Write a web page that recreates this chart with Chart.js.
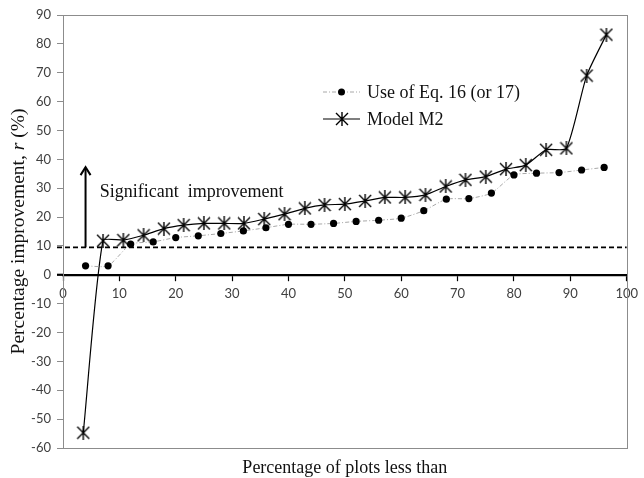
<!DOCTYPE html>
<html><head><meta charset="utf-8">
<script src="https://cdn.jsdelivr.net/npm/chart.js@4"></script>
<style>html,body{margin:0;padding:0;background:#fff}#wrap{width:644px;height:478px}</style>
</head><body><div id="wrap"><canvas id="c" width="644" height="478"></canvas></div>
<script>
// ---- data ----
const m2X = [3.6, 7.1, 10.7, 14.3, 17.9, 21.4, 25.0, 28.6, 32.1, 35.7, 39.3, 42.9, 46.4, 50.0, 53.6, 57.1, 60.7, 64.3, 67.9, 71.4, 75.0, 78.6, 82.1, 85.7, 89.3, 92.9, 96.4];
const m2Y = [-54.7, 11.8, 12.0, 13.7, 16.0, 17.2, 17.8, 17.8, 17.8, 19.3, 21.0, 23.0, 24.2, 24.5, 25.6, 26.8, 26.8, 27.7, 30.6, 32.9, 34.0, 36.6, 38.0, 43.3, 43.8, 69.0, 83.2];
const eqX = [4, 8, 12, 16, 20, 24, 28, 32, 36, 40, 44, 48, 52, 56, 60, 64, 68, 72, 76, 80, 84, 88, 92, 96];
const eqY = [3.1, 3.1, 10.6, 11.4, 12.9, 13.5, 14.3, 15.2, 16.3, 17.5, 17.5, 17.8, 18.5, 18.9, 19.6, 22.2, 26.2, 26.4, 28.3, 34.6, 35.2, 35.4, 36.3, 37.2];
const xTicks = [0, 10, 20, 30, 40, 50, 60, 70, 80, 90, 100];
const yTicks = [-60, -50, -40, -30, -20, -10, 0, 10, 20, 30, 40, 50, 60, 70, 80, 90];
const seriesNames = ['Use of Eq. 16 (or 17)', 'Model M2'];
const thresholdValue = 9.5;
const arrowX = 4.0, arrowTopValue = 37.3;
const noteText = 'Significant  improvement';
const noteX = 6.5, noteY = 26.8;
const xTitle = 'Percentage of plots less than';
const yTitleParts = ['Percentage improvement, ', 'r', ' (%)'];

// ---- styles ----
const SERIF = '"Liberation Serif", "Times New Roman", serif';
const SANS = 'Lato, "Liberation Sans", sans-serif';
const FRAME = '#8c8c8c';

function makeStar() {
  const c = document.createElement('canvas');
  c.width = 14; c.height = 14;
  const g = c.getContext('2d');
  g.strokeStyle = '#000'; g.lineWidth = 1.4;
  g.beginPath();
  g.moveTo(1, 1); g.lineTo(13, 13);
  g.moveTo(13, 1); g.lineTo(1, 13);
  g.moveTo(7, 0); g.lineTo(7, 14);
  g.stroke();
  return c;
}
const starImg = makeStar();

const decor = {
  id: 'decor',
  beforeDatasetsDraw(chart) {
    const {ctx, chartArea: a, scales: {x, y}} = chart;
    ctx.save();
    ctx.strokeStyle = FRAME; ctx.lineWidth = 1;
    ctx.strokeRect(Math.round(a.left) + 0.5, Math.round(a.top) + 0.5, Math.round(a.right - a.left), Math.round(a.bottom - a.top));
    const ty = y.getPixelForValue(thresholdValue);
    ctx.strokeStyle = '#000'; ctx.lineWidth = 1.6; ctx.setLineDash([5, 3]);
    ctx.beginPath(); ctx.moveTo(a.left - 6, ty); ctx.lineTo(a.right, ty); ctx.stroke();
    ctx.setLineDash([]);
    const zy = y.getPixelForValue(0);
    ctx.lineWidth = 2.2;
    ctx.beginPath(); ctx.moveTo(a.left - 6, zy); ctx.lineTo(a.left, zy); ctx.stroke();
    const ax = x.getPixelForValue(arrowX);
    const at = y.getPixelForValue(arrowTopValue);
    ctx.lineWidth = 2;
    ctx.beginPath(); ctx.moveTo(ax, ty); ctx.lineTo(ax, at + 1); ctx.stroke();
    ctx.beginPath(); ctx.moveTo(ax - 5, at + 8); ctx.lineTo(ax, at); ctx.lineTo(ax + 5, at + 8); ctx.stroke();
    ctx.fillStyle = '#111';
    ctx.font = '18px ' + SERIF;
    ctx.textBaseline = 'alphabetic'; ctx.textAlign = 'left';
    ctx.fillText(noteText, x.getPixelForValue(noteX), y.getPixelForValue(noteY));
    ctx.restore();
  },
  afterDraw(chart) {
    const {ctx, chartArea: a} = chart;
    ctx.save();
    ctx.fillStyle = '#111';
    ctx.font = '18px ' + SERIF;
    ctx.textAlign = 'center'; ctx.textBaseline = 'alphabetic';
    ctx.fillText(xTitle, (a.left + a.right) / 2, 473);
    const fN = '19.5px ' + SERIF, fI = 'italic 19.5px ' + SERIF;
    ctx.font = fN; const w0 = ctx.measureText(yTitleParts[0]).width; const w2 = ctx.measureText(yTitleParts[2]).width;
    ctx.font = fI; const w1 = ctx.measureText(yTitleParts[1]).width;
    const total = w0 + w1 + w2;
    ctx.translate(24, (a.top + a.bottom) / 2);
    ctx.rotate(-Math.PI / 2);
    ctx.textAlign = 'left';
    let px = -total / 2;
    ctx.font = fN; ctx.fillText(yTitleParts[0], px, 0); px += w0;
    ctx.font = fI; ctx.fillText(yTitleParts[1], px, 0); px += w1;
    ctx.font = fN; ctx.fillText(yTitleParts[2], px, 0);
    ctx.restore();
    ctx.save();
    const rows = [92, 119];
    const lx0 = 323, lx1 = 360, tx = 367;
    ctx.strokeStyle = '#a8a8a8'; ctx.lineWidth = 1; ctx.setLineDash([4, 2, 1, 2]);
    ctx.beginPath(); ctx.moveTo(lx0, rows[0]); ctx.lineTo(lx1, rows[0]); ctx.stroke();
    ctx.setLineDash([]);
    ctx.fillStyle = '#000';
    ctx.beginPath(); ctx.arc((lx0 + lx1) / 2, rows[0], 3.5, 0, Math.PI * 2); ctx.fill();
    ctx.strokeStyle = '#000'; ctx.lineWidth = 1.2;
    ctx.beginPath(); ctx.moveTo(lx0, rows[1]); ctx.lineTo(lx1, rows[1]); ctx.stroke();
    ctx.drawImage(starImg, Math.round((lx0 + lx1) / 2 - 7), rows[1] - 7);
    ctx.fillStyle = '#111';
    ctx.font = '18px ' + SERIF; ctx.textBaseline = 'middle'; ctx.textAlign = 'left';
    ctx.fillText(seriesNames[0], tx, rows[0] + 1);
    ctx.fillText(seriesNames[1], tx, rows[1] + 1);
    ctx.restore();
  }
};

new Chart(document.getElementById('c'), {
  type: 'scatter',
  data: {
    datasets: [
      {
        label: seriesNames[0],
        data: eqX.map((v, i) => ({x: v, y: eqY[i]})),
        showLine: true,
        borderColor: '#a8a8a8', borderWidth: 1, borderDash: [4, 2, 1, 2],
        tension: 0.2,
        pointStyle: 'circle', pointRadius: 3.6, pointBackgroundColor: '#000', pointBorderColor: '#000', pointBorderWidth: 0
      },
      {
        label: seriesNames[1],
        data: m2X.map((v, i) => ({x: v, y: m2Y[i]})),
        showLine: true,
        borderColor: '#000', borderWidth: 1.2,
        tension: 0.2,
        pointStyle: starImg, pointRadius: 7
      }
    ]
  },
  options: {
    responsive: false, animation: false, devicePixelRatio: 1,
    layout: {padding: {left: 0, right: 12, top: 15, bottom: 30}},
    plugins: {legend: {display: false}, tooltip: {enabled: false}, title: {display: false}},
    scales: {
      x: {
        type: 'linear', min: 0, max: 100, position: {y: 0},
        afterBuildTicks: s => { s.ticks = xTicks.map(v => ({value: v})); },
        grid: {drawOnChartArea: false, drawTicks: true, tickLength: 5, color: '#000', tickWidth: 1.2},
        border: {display: true, color: '#000', width: 2.2},
        ticks: {font: {family: SANS, size: 13}, color: '#404040', padding: 6, maxRotation: 0, autoSkip: false}
      },
      y: {
        type: 'linear', min: -60, max: 90, position: 'left',
        afterBuildTicks: s => { s.ticks = yTicks.map(v => ({value: v})); },
        afterFit: s => { s.width = 63; },
        grid: {drawOnChartArea: false, drawTicks: true, tickLength: 6, color: FRAME},
        border: {display: true, color: FRAME, width: 1},
        ticks: {font: {family: SANS, size: 13}, color: '#404040', padding: 6, autoSkip: false}
      }
    }
  },
  plugins: [decor]
});
</script>
</body></html>
